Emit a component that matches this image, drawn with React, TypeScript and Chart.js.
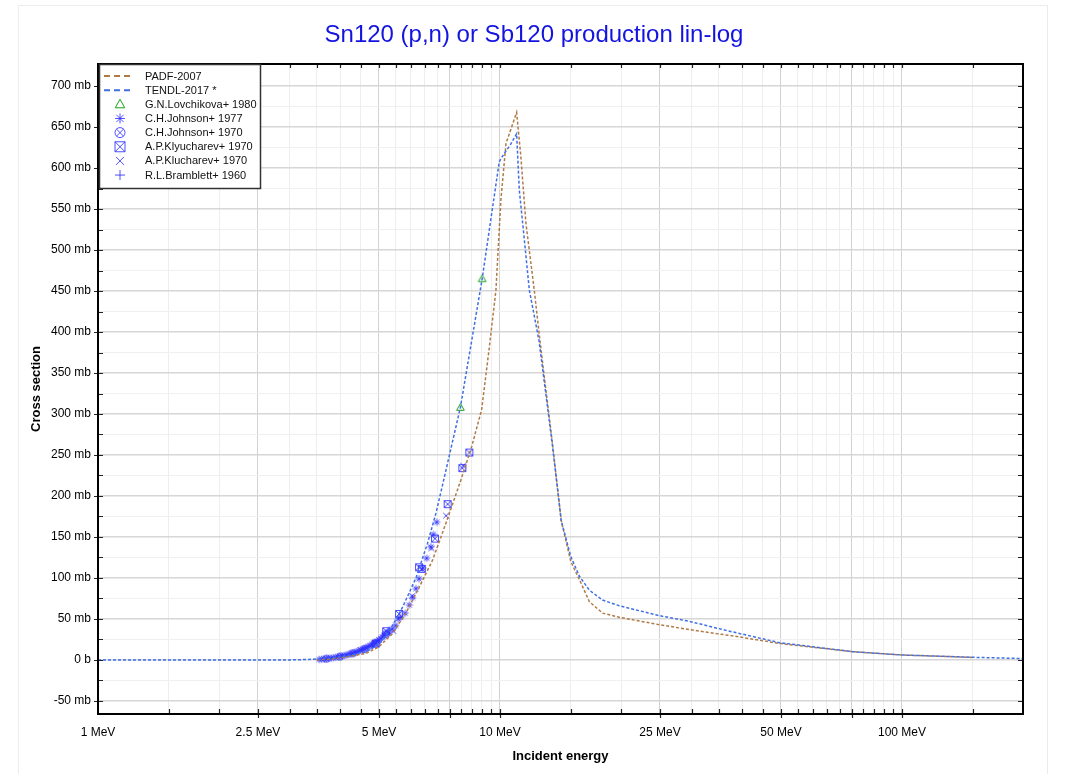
import React, { useEffect, useRef } from "react";
import { Chart, registerables } from "chart.js";

Chart.register(...registerables);

// ---------------- DATA ----------------
const chartTitle = "Sn120 (p,n) or Sb120 production lin-log";
const xAxisTitle = "Incident energy";
const yAxisTitle = "Cross section";

const xTickValues = [1, 1.5, 2, 2.5, 3, 3.5, 4, 4.5, 5, 5.5, 6, 6.5, 7, 7.5, 8, 8.5, 9, 9.5, 10, 15, 20, 25, 30, 35, 40, 45, 50, 55, 60, 65, 70, 75, 80, 85, 90, 95, 100, 150, 200];
const xMajorValues = [1, 2.5, 5, 7.5, 10, 25, 50, 75, 100];
const xLabelValues = [1, 2.5, 5, 10, 25, 50, 100];
const xLabelTexts = ["1 MeV", "2.5 MeV", "5 MeV", "10 MeV", "25 MeV", "50 MeV", "100 MeV"];

const yTickValues = [-50, -25, 0, 25, 50, 75, 100, 125, 150, 175, 200, 225, 250, 275, 300, 325, 350, 375, 400, 425, 450, 475, 500, 525, 550, 575, 600, 625, 650, 675, 700];

// PADF-2007 evaluation (MeV, mb)
const padfE = [3.5, 3.8, 4.2, 4.64, 5.0, 5.4, 5.83, 6.3, 6.8, 7.34, 8.0, 8.5, 9.0, 9.4, 9.77, 10.05, 10.35, 11.0, 11.27, 11.6, 12.17, 12.5, 13.0, 13.5, 14.2, 15.0, 15.76, 16.69, 18.0, 19.8, 24.9, 29.6, 39.4, 49.6, 75.5, 100, 150];
const padfS = [0, 1, 4, 8, 16, 32, 57, 89, 122, 167, 220, 260, 305, 380, 451, 561, 630, 668, 614, 533, 451, 400, 330, 265, 170, 120, 98, 71, 57, 52, 43, 37, 28, 20, 10, 6, 3];

// TENDL-2017 evaluation (MeV, mb)
const tendlE = [1, 2, 3, 3.2, 3.5, 3.83, 4.2, 4.64, 5.0, 5.35, 5.72, 6.18, 6.6, 6.93, 7.24, 7.97, 9.03, 9.96, 10.25, 10.6, 11.0, 11.17, 11.5, 11.83, 12.5, 13.0, 13.5, 14.2, 15.0, 15.76, 16.69, 18.0, 19.8, 24.9, 29.6, 36.5, 49.6, 75.5, 100, 150, 200];
const tendlS = [0, 0, 0, 0.3, 1, 2.5, 5.5, 10, 19, 38, 64, 100, 142, 179, 219, 308, 465, 608, 618, 628, 642, 573, 512, 451, 390, 325, 262, 170, 126, 102, 85, 73, 66, 54, 47, 36, 21, 10, 6, 3.2, 1.6];

// Experimental data
const lovchikova1980E = [7.97, 9.03];
const lovchikova1980S = [308, 465];

const johnson1977E = [3.55, 3.6, 3.65, 3.7, 3.75, 3.8, 3.85, 3.9, 3.95, 4.0, 4.05, 4.1, 4.15, 4.2, 4.25, 4.3, 4.35, 4.4, 4.45, 4.5, 4.55, 4.6, 4.65, 4.7, 4.75, 4.8, 4.85, 4.9, 4.95, 5.0, 5.05, 5.1, 5.15, 5.2, 5.3, 5.4, 5.5, 5.58, 5.66, 5.81, 5.95, 6.06, 6.18, 6.29, 6.43, 6.57, 6.73, 6.83, 6.96];
const johnson1977S = [0.5, 0.8, 1.1, 1.5, 1.9, 2.3, 2.7, 3.2, 3.7, 4.2, 4.8, 5.4, 6.1, 6.8, 7.5, 8.3, 9.1, 10, 11, 12, 13, 14, 15, 16.2, 17.4, 18.7, 20, 21.5, 23, 24.5, 26, 28, 30, 32, 34, 38, 42, 50, 52, 57, 67, 76, 87, 99, 112, 124, 138, 153, 168];

const johnson1970E = [3.7, 4.0, 4.3, 4.6, 4.9, 5.2];
const johnson1970S = [1.5, 4, 8, 13, 20, 31];

const klyucharev1970E = [4.91, 5.21, 5.61, 6.29, 6.39, 6.89, 7.41, 8.06, 8.39];
const klyucharev1970S = [20, 35, 56, 113, 111, 148, 190, 234, 253];

const klucharev1970E = [4.5, 5.43, 6.05, 6.75, 7.34, 8.1];
const klucharev1970S = [12, 35, 78, 136, 176, 237];

const bramblett1960E = [4.8, 5.27];
const bramblett1960S = [17, 36];

// ---------------- STYLE HELPERS ----------------
const FONT = "'Liberation Sans', Arial, sans-serif";
const PADF_COLOR = "#b07a45";
const TENDL_COLOR = "#3f6fe6";
const MARK_BLUE = "rgba(48,48,255,0.85)";
const MARK_GREEN = "#18a018";

type MarkerKind = "triangle" | "asterisk" | "circlex" | "squarex" | "x" | "plus";

function drawMarker(g: CanvasRenderingContext2D, kind: MarkerKind, cx: number, cy: number, r: number, color: string) {
  g.save();
  g.strokeStyle = color;
  g.lineWidth = 1;
  g.beginPath();
  if (kind === "triangle") {
    g.moveTo(cx, cy - r);
    g.lineTo(cx + r * 0.95, cy + r * 0.7);
    g.lineTo(cx - r * 0.95, cy + r * 0.7);
    g.closePath();
  } else if (kind === "asterisk") {
    const d = r * 0.72;
    g.moveTo(cx, cy - r); g.lineTo(cx, cy + r);
    g.moveTo(cx - r, cy); g.lineTo(cx + r, cy);
    g.moveTo(cx - d, cy - d); g.lineTo(cx + d, cy + d);
    g.moveTo(cx - d, cy + d); g.lineTo(cx + d, cy - d);
  } else if (kind === "circlex") {
    g.arc(cx, cy, r, 0, Math.PI * 2);
    const d = r * 0.707;
    g.moveTo(cx - d, cy - d); g.lineTo(cx + d, cy + d);
    g.moveTo(cx - d, cy + d); g.lineTo(cx + d, cy - d);
  } else if (kind === "squarex") {
    g.rect(cx - r, cy - r, 2 * r, 2 * r);
    g.moveTo(cx - r, cy - r); g.lineTo(cx + r, cy + r);
    g.moveTo(cx - r, cy + r); g.lineTo(cx + r, cy - r);
  } else if (kind === "x") {
    const d = r * 0.8;
    g.moveTo(cx - d, cy - d); g.lineTo(cx + d, cy + d);
    g.moveTo(cx - d, cy + d); g.lineTo(cx + d, cy - d);
  } else if (kind === "plus") {
    g.moveTo(cx, cy - r); g.lineTo(cx, cy + r);
    g.moveTo(cx - r, cy); g.lineTo(cx + r, cy);
  }
  g.stroke();
  g.restore();
}

function markerImage(kind: MarkerKind, color: string, r: number): HTMLCanvasElement {
  const size = Math.ceil(2 * r + 3);
  const c = document.createElement("canvas");
  c.width = size;
  c.height = size;
  const g = c.getContext("2d")!;
  drawMarker(g, kind, size / 2, size / 2, r, color);
  return c;
}

const toPoints = (xs: number[], ys: number[]) => xs.map((x, i) => ({ x, y: ys[i] }));

const legendItems: { label: string; type: "line" | MarkerKind; color: string }[] = [
  { label: "PADF-2007", type: "line", color: PADF_COLOR },
  { label: "TENDL-2017 *", type: "line", color: TENDL_COLOR },
  { label: "G.N.Lovchikova+ 1980", type: "triangle", color: MARK_GREEN },
  { label: "C.H.Johnson+ 1977", type: "asterisk", color: MARK_BLUE },
  { label: "C.H.Johnson+ 1970", type: "circlex", color: MARK_BLUE },
  { label: "A.P.Klyucharev+ 1970", type: "squarex", color: MARK_BLUE },
  { label: "A.P.Klucharev+ 1970", type: "x", color: MARK_BLUE },
  { label: "R.L.Bramblett+ 1960", type: "plus", color: MARK_BLUE },
];

const decorPlugin = {
  id: "decor",
  beforeDraw(chart: any) {
    const { ctx, width, height } = chart;
    ctx.save();
    ctx.fillStyle = "#ffffff";
    ctx.fillRect(0, 0, width, height);
    ctx.strokeStyle = "#ececec";
    ctx.lineWidth = 1;
    ctx.strokeRect(18.5, 5.5, 1029, height + 20);
    ctx.restore();
  },
  afterDraw(chart: any) {
    const { ctx, chartArea: a, scales } = chart;
    const xs = scales.x;
    const ys = scales.y;
    ctx.save();
    // ticks
    ctx.strokeStyle = "#222";
    ctx.lineWidth = 1.2;
    ctx.beginPath();
    xTickValues.forEach((v) => {
      const px = Math.round(xs.getPixelForValue(v)) + 0.5;
      if (px < a.left + 1 || px > a.right - 1) return;
      const major = xMajorValues.includes(v);
      ctx.moveTo(px, a.bottom - 5);
      ctx.lineTo(px, a.bottom + (major ? 4 : 0));
      ctx.moveTo(px, a.top);
      ctx.lineTo(px, a.top + 4);
    });
    yTickValues.forEach((v) => {
      const py = Math.round(ys.getPixelForValue(v)) + 0.5;
      const major = v % 50 === 0;
      ctx.moveTo(a.left - (major ? 4 : 0), py);
      ctx.lineTo(a.left + 5, py);
      ctx.moveTo(a.right - 5, py);
      ctx.lineTo(a.right, py);
    });
    ctx.stroke();
    // border
    ctx.strokeStyle = "#000";
    ctx.lineWidth = 2;
    ctx.strokeRect(a.left, a.top, a.right - a.left, a.bottom - a.top);

    // legend
    const lx = 99, ly = 64, lw = 161, lh = 124;
    ctx.fillStyle = "#fff";
    ctx.fillRect(lx, ly, lw, lh);
    ctx.strokeStyle = "#333";
    ctx.lineWidth = 1.5;
    ctx.strokeRect(lx + 0.5, ly + 0.5, lw, lh);
    ctx.font = `11px ${FONT}`;
    ctx.textBaseline = "middle";
    ctx.textAlign = "left";
    legendItems.forEach((it, i) => {
      const cy = 76 + i * 14.15;
      if (it.type === "line") {
        ctx.save();
        ctx.strokeStyle = it.color;
        ctx.lineWidth = 2;
        ctx.setLineDash([6, 4]);
        ctx.beginPath();
        ctx.moveTo(104, cy);
        ctx.lineTo(132, cy);
        ctx.stroke();
        ctx.restore();
      } else {
        drawMarker(ctx, it.type, 120, cy, 5, it.color);
      }
      ctx.fillStyle = "#111";
      ctx.fillText(it.label, 145, cy + 0.5);
    });

    // title
    ctx.font = `24px ${FONT}`;
    ctx.fillStyle = "#1414e0";
    ctx.textAlign = "center";
    ctx.textBaseline = "middle";
    ctx.fillText(chartTitle, 534, 35);
    ctx.restore();
  },
};

export default function App() {
  const ref = useRef<HTMLCanvasElement | null>(null);

  useEffect(() => {
    if (!ref.current) return;
    Chart.defaults.font.family = FONT;

    const scatterDs = (label: string, xsArr: number[], ysArr: number[], kind: MarkerKind, color: string, r = 3.5) => ({
      type: "scatter" as const,
      label,
      data: toPoints(xsArr, ysArr),
      pointStyle: markerImage(kind, color, r),
      pointRadius: r,
      showLine: false,
      order: 2,
    });

    const chart = new Chart(ref.current, {
      type: "line",
      data: {
        datasets: [
          {
            label: "PADF-2007",
            data: toPoints(padfE, padfS),
            borderColor: PADF_COLOR,
            borderWidth: 1.5,
            borderDash: [3, 2],
            pointRadius: 0,
            tension: 0,
            fill: false,
            order: 1,
          },
          {
            label: "TENDL-2017 *",
            data: toPoints(tendlE, tendlS),
            borderColor: TENDL_COLOR,
            borderWidth: 1.5,
            borderDash: [3, 2],
            pointRadius: 0,
            tension: 0,
            fill: false,
            order: 0,
          },
          scatterDs("C.H.Johnson+ 1977", johnson1977E, johnson1977S, "asterisk", MARK_BLUE),
          scatterDs("C.H.Johnson+ 1970", johnson1970E, johnson1970S, "circlex", MARK_BLUE),
          scatterDs("A.P.Klyucharev+ 1970", klyucharev1970E, klyucharev1970S, "squarex", MARK_BLUE),
          scatterDs("A.P.Klucharev+ 1970", klucharev1970E, klucharev1970S, "x", MARK_BLUE),
          scatterDs("R.L.Bramblett+ 1960", bramblett1960E, bramblett1960S, "plus", MARK_BLUE),
          scatterDs("G.N.Lovchikova+ 1980", lovchikova1980E, lovchikova1980S, "triangle", MARK_GREEN, 4),
        ] as any,
      },
      options: {
        responsive: false,
        animation: false,
        devicePixelRatio: 1,
        layout: { padding: { left: 0, right: 48, top: 64, bottom: 0 } },
        plugins: {
          legend: { display: false },
          tooltip: { enabled: false },
          title: { display: false },
        },
        scales: {
          x: {
            type: "logarithmic",
            min: 1,
            max: 200,
            afterBuildTicks: (s: any) => {
              s.ticks = xTickValues.map((v) => ({ value: v }));
            },
            afterFit: (s: any) => {
              s.height = 60;
            },
            border: { display: false },
            grid: {
              drawTicks: false,
              color: (c: any) => (c.tick && xMajorValues.includes(c.tick.value) ? "#d2d2d2" : "#eeeeee"),
              lineWidth: 1,
            },
            ticks: {
              autoSkip: false,
              maxRotation: 0,
              minRotation: 0,
              padding: 11,
              color: "#000",
              font: { size: 12 },
              callback: (v: any) => {
                const i = xLabelValues.indexOf(Number(v));
                return i >= 0 ? xLabelTexts[i] : "";
              },
            },
            title: {
              display: true,
              text: xAxisTitle,
              color: "#000",
              font: { size: 13, weight: "bold" },
              padding: { top: 0, bottom: 10 },
            },
          },
          y: {
            type: "linear",
            min: -66,
            max: 727,
            afterBuildTicks: (s: any) => {
              s.ticks = yTickValues.map((v) => ({ value: v }));
            },
            afterFit: (s: any) => {
              s.width = 98;
            },
            border: { display: false },
            grid: {
              drawTicks: false,
              color: (c: any) => (c.tick && c.tick.value % 50 === 0 ? "#d6d6d6" : "#f0f0f0"),
              lineWidth: (c: any) => (c.tick && c.tick.value % 50 === 0 ? 1.5 : 1),
            },
            ticks: {
              padding: 7,
              color: "#000",
              font: { size: 12 },
              callback: (v: any) => {
                const n = Number(v);
                if (n === 0) return "0 b";
                return n % 50 === 0 ? `${n} mb` : "";
              },
            },
            title: {
              display: true,
              text: yAxisTitle,
              color: "#000",
              font: { size: 13, weight: "bold" },
              padding: { top: 29, bottom: 0 },
            },
          },
        },
      } as any,
      plugins: [decorPlugin],
    });

    return () => chart.destroy();
  }, []);

  return (
    <div style={{ position: "absolute", left: 0, top: 0, width: 1071, height: 774 }}>
      <canvas ref={ref} width={1071} height={774} style={{ display: "block" }} />
    </div>
  );
}
